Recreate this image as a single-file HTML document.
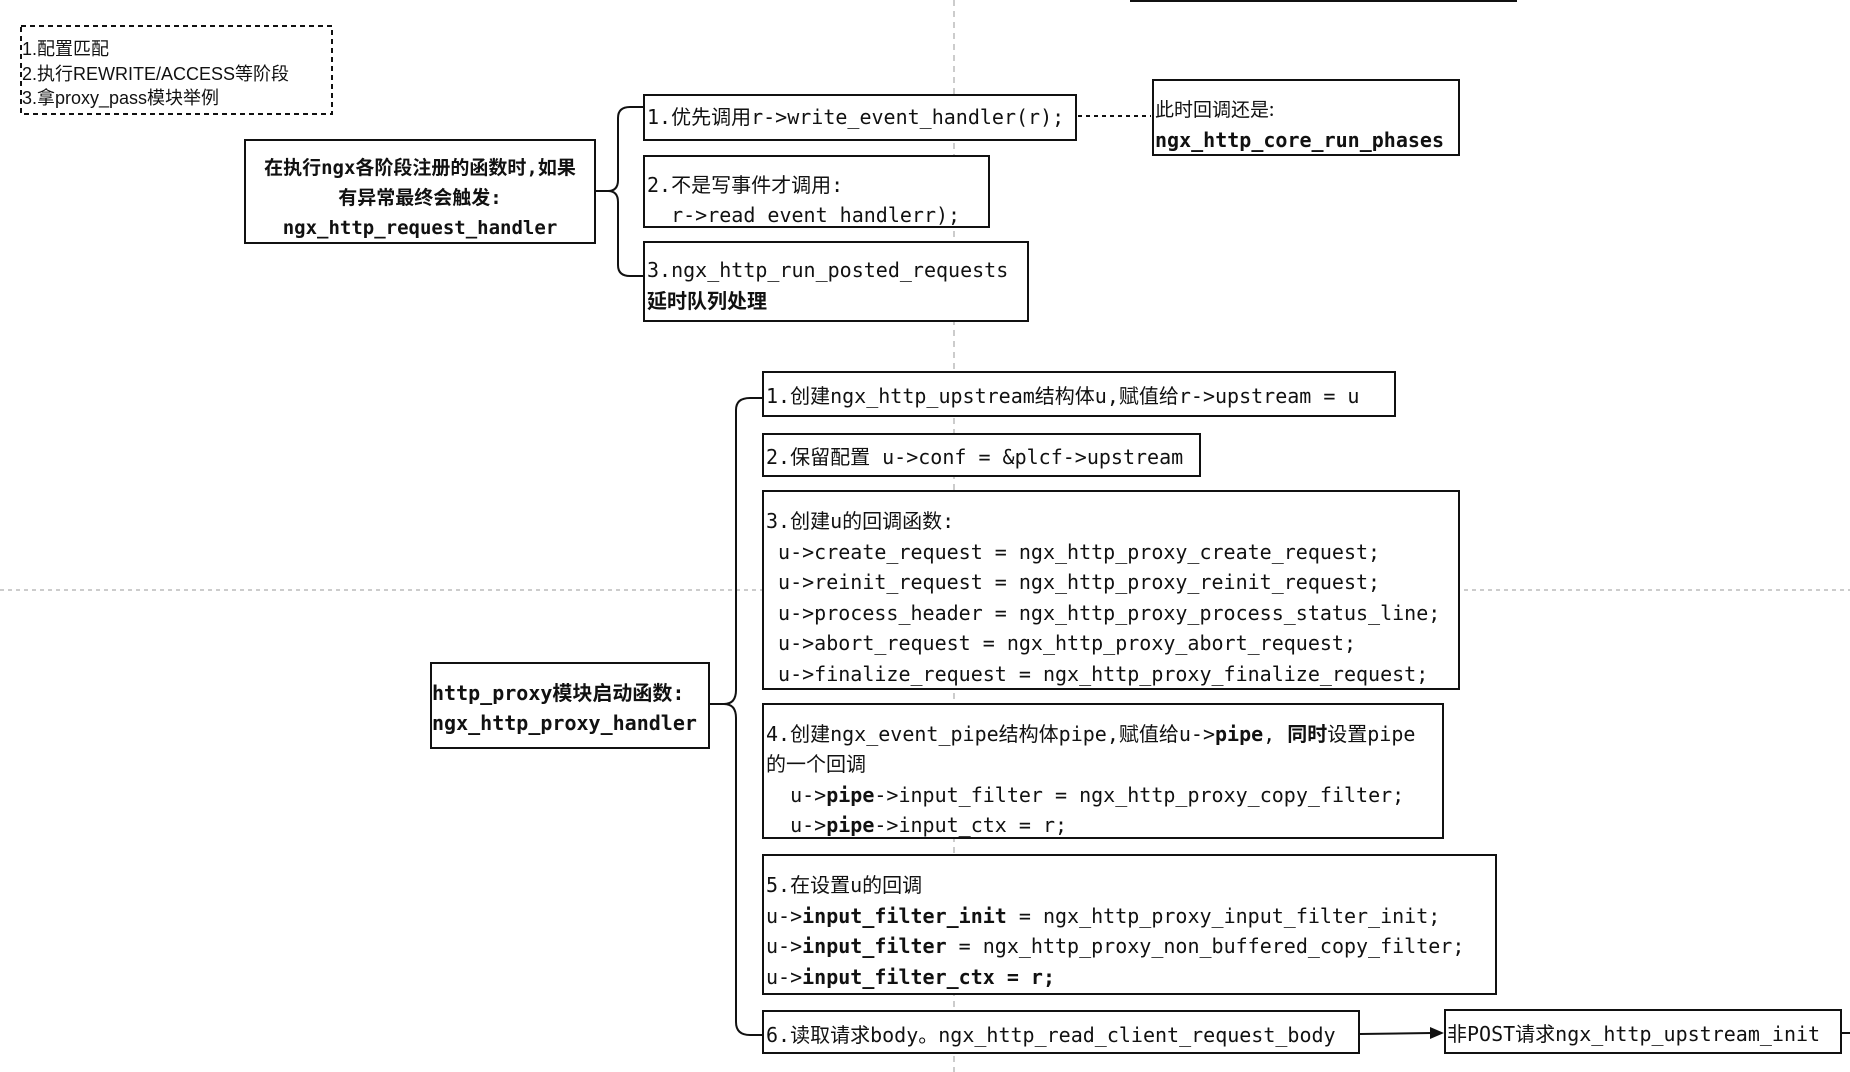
<!DOCTYPE html>
<html><head><meta charset="utf-8"><style>
body{margin:0;width:1850px;height:1072px;background:#fff;position:relative;overflow:hidden;font-family:"DejaVu Sans Mono","Liberation Mono","Noto Sans CJK SC",monospace;font-size:20px;color:#111}
.b{position:absolute;border:2px solid #111;box-sizing:border-box;background:#fff}
.t{position:absolute;white-space:pre;line-height:20px}
b{font-weight:bold}
</style></head><body>
<svg width="1850" height="1072" style="position:absolute;left:0;top:0">
<line x1="954" y1="0" x2="954" y2="1072" stroke="#bbb" stroke-width="1.5" stroke-dasharray="6,5"/>
<line x1="0" y1="590" x2="1850" y2="590" stroke="#bbb" stroke-width="1.5" stroke-dasharray="4,4"/>
<line x1="1130" y1="1" x2="1517" y2="1" stroke="#111" stroke-width="2"/>
<rect x="21" y="26" width="311" height="88" fill="none" stroke="#111" stroke-width="2" stroke-dasharray="5,4"/>
<path d="M596 191 H608 Q618 191 618 180 V118 Q618 107 630 107 H643 M608 191 Q618 191 618 202 V265 Q618 276 630 276 H643" fill="none" stroke="#111" stroke-width="2"/>
<line x1="1078" y1="116" x2="1151" y2="116" stroke="#111" stroke-width="2" stroke-dasharray="4,4"/>
<path d="M710 704 H724 Q736 704 736 690 V410 Q736 398 750 398 H762 M724 704 Q736 704 736 718 V1022 Q736 1035 750 1035 H762" fill="none" stroke="#111" stroke-width="2"/>
<line x1="1360" y1="1034" x2="1432" y2="1033" stroke="#111" stroke-width="2"/>
<polygon points="1444,1033 1430,1027 1430,1039" fill="#111"/>
<line x1="1842" y1="1033" x2="1850" y2="1033" stroke="#111" stroke-width="2"/>
</svg>
<div class="t" style="left:22px;top:37px;font-family:'Liberation Sans','Noto Sans CJK SC',sans-serif;font-size:18px;line-height:24.5px">1.配置匹配
2.执行REWRITE/ACCESS等阶段
3.拿proxy_pass模块举例</div>

<div class="b" style="left:244px;top:139px;width:352px;height:105px"></div>
<div class="t" style="left:244px;top:153px;width:352px;text-align:center;font-weight:bold;line-height:30px;font-size:19px">在执行ngx各阶段注册的函数时,如果
有异常最终会触发:
ngx_http_request_handler</div>

<div class="b" style="left:643px;top:94px;width:434px;height:47px"></div>
<div class="t" style="left:647px;top:107px">1.优先调用r->write_event_handler(r);</div>
<div class="b" style="left:643px;top:155px;width:347px;height:73px"></div>
<div class="t" style="left:647px;top:170px;line-height:30px">2.不是写事件才调用:
  r->read_event_handlerr);</div>
<div class="b" style="left:643px;top:241px;width:386px;height:81px"></div>
<div class="t" style="left:647px;top:255px;line-height:31px">3.ngx_http_run_posted_requests
<b>延时队列处理</b></div>

<div class="b" style="left:1152px;top:79px;width:308px;height:77px"></div>
<div class="t" style="left:1155px;top:93px;line-height:31px"><span style="font-family:'Noto Sans CJK SC',sans-serif;font-size:19px">此时回调还是:</span>
<b>ngx_http_core_run_phases</b></div>

<div class="b" style="left:430px;top:662px;width:280px;height:87px"></div>
<div class="t" style="left:432px;top:678px;line-height:30px;font-weight:bold">http_proxy模块启动函数:
ngx_http_proxy_handler</div>

<div class="b" style="left:762px;top:371px;width:634px;height:46px"></div>
<div class="t" style="left:766px;top:386px">1.创建ngx_http_upstream结构体u,赋值给r->upstream = u</div>
<div class="b" style="left:762px;top:433px;width:439px;height:44px"></div>
<div class="t" style="left:766px;top:447px">2.保留配置 u->conf = &amp;plcf->upstream</div>
<div class="b" style="left:762px;top:490px;width:698px;height:200px"></div>
<div class="t" style="left:766px;top:506px;line-height:30.6px">3.创建u的回调函数:
 u->create_request = ngx_http_proxy_create_request;
 u->reinit_request = ngx_http_proxy_reinit_request;
 u->process_header = ngx_http_proxy_process_status_line;
 u->abort_request = ngx_http_proxy_abort_request;
 u->finalize_request = ngx_http_proxy_finalize_request;</div>
<div class="b" style="left:762px;top:703px;width:682px;height:136px"></div>
<div class="t" style="left:766px;top:719px;line-height:30.3px">4.创建ngx_event_pipe结构体pipe,赋值给u-><b>pipe</b>, <b>同时</b>设置pipe
的一个回调
  u-><b>pipe</b>->input_filter = ngx_http_proxy_copy_filter;
  u-><b>pipe</b>->input_ctx = r;</div>
<div class="b" style="left:762px;top:854px;width:735px;height:141px"></div>
<div class="t" style="left:766px;top:870px;line-height:30.7px">5.在设置u的回调
u-><b>input_filter_init</b> = ngx_http_proxy_input_filter_init;
u-><b>input_filter</b> = ngx_http_proxy_non_buffered_copy_filter;
u-><b>input_filter_ctx = r;</b></div>
<div class="b" style="left:762px;top:1010px;width:598px;height:44px"></div>
<div class="t" style="left:766px;top:1025px">6.读取请求body。ngx_http_read_client_request_body</div>
<div class="b" style="left:1444px;top:1009px;width:398px;height:45px"></div>
<div class="t" style="left:1447px;top:1024px">非POST请求ngx_http_upstream_init</div>
</body></html>
